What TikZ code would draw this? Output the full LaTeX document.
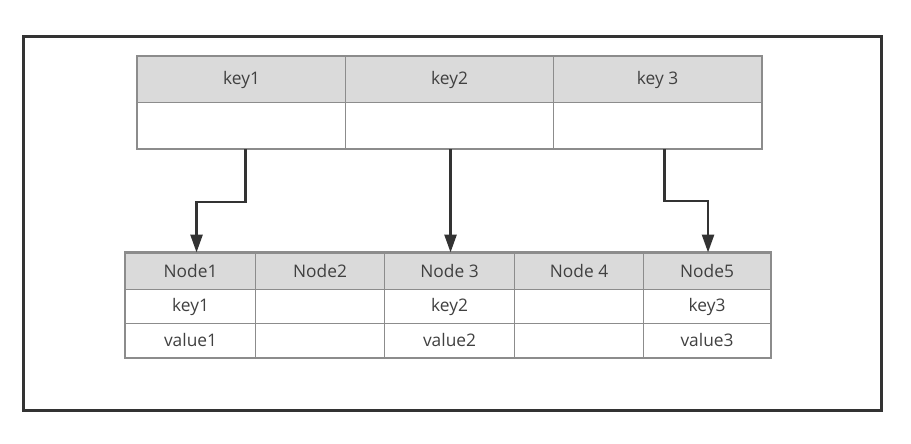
\documentclass[tikz,border=0pt]{standalone}
\usepackage{fontspec}
\setmainfont{Open Sans}
\usetikzlibrary{arrows.meta}
\definecolor{frame}{HTML}{333333}
\definecolor{grid}{HTML}{8C8C8C}
\definecolor{head}{HTML}{DADADA}
\definecolor{txt}{HTML}{404040}
\begin{document}
\begin{tikzpicture}[x=0.75pt,y=-0.75pt,
  cell/.style={draw=grid, line width=0.8pt, inner sep=0pt, text=txt,
    font=\fontsize{13}{15}\selectfont, anchor=north west},
  hd/.style={cell, fill=head},
  conn/.style={draw=frame, line width=2pt, -{Triangle[length=13.5pt,width=9pt]}}]
\useasboundingbox (0,0) rectangle (911,443);
\node[draw=frame, line width=1.9pt, minimum width={858*0.75pt},
  minimum height={374*0.75pt}, anchor=north west, inner sep=0pt] (frame) at (22,35) {};
% top table
\node[hd, minimum width=156pt, minimum height=34.5pt] (tk1) at (137,56) {key1};
\node[hd, minimum width=156pt, minimum height=34.5pt] (tk2) at (345,56) {key2};
\node[hd, minimum width=156pt, minimum height=34.5pt] (tk3) at (553,56) {key 3};
\node[cell, minimum width=156pt, minimum height=34.5pt] (tv1) at (137,102) {};
\node[cell, minimum width=156pt, minimum height=34.5pt] (tv2) at (345,102) {};
\node[cell, minimum width=156pt, minimum height=34.5pt] (tv3) at (553,102) {};
\draw[grid, line width=1.6pt] (tk1.north west) rectangle (tv3.south east);
% bottom table
\node[hd, minimum width={130*0.75pt}, minimum height={36.5*0.75pt}] (n1) at (125,252.5) {Node1};
\node[hd, minimum width={129*0.75pt}, minimum height={36.5*0.75pt}] (n2) at (255,252.5) {Node2};
\node[hd, minimum width={130*0.75pt}, minimum height={36.5*0.75pt}] (n3) at (384,252.5) {Node 3};
\node[hd, minimum width={129*0.75pt}, minimum height={36.5*0.75pt}] (n4) at (514,252.5) {Node 4};
\node[hd, minimum width={127*0.75pt}, minimum height={36.5*0.75pt}] (n5) at (643,252.5) {Node5};
\node[cell, minimum width={130*0.75pt}, minimum height={34*0.75pt}] (k1) at (125,289) {key1};
\node[cell, minimum width={129*0.75pt}, minimum height={34*0.75pt}] (k2) at (255,289) {};
\node[cell, minimum width={130*0.75pt}, minimum height={34*0.75pt}] (k3) at (384,289) {key2};
\node[cell, minimum width={129*0.75pt}, minimum height={34*0.75pt}] (k4) at (514,289) {};
\node[cell, minimum width={127*0.75pt}, minimum height={34*0.75pt}] (k5) at (643,289) {key3};
\node[cell, minimum width={130*0.75pt}, minimum height={33.5*0.75pt}] (v1) at (125,323) {value1};
\node[cell, minimum width={129*0.75pt}, minimum height={33.5*0.75pt}] (v2) at (255,323) {};
\node[cell, minimum width={130*0.75pt}, minimum height={33.5*0.75pt}] (v3) at (384,323) {value2};
\node[cell, minimum width={129*0.75pt}, minimum height={33.5*0.75pt}] (v4) at (514,323) {};
\node[cell, minimum width={127*0.75pt}, minimum height={33.5*0.75pt}] (v5) at (643,323) {value3};
\draw[grid, line width=1.6pt] (n1.north west) rectangle (v5.south east);
% connectors
\draw[conn] ([xshift=3pt]tv1.south) -- ++(0,53) -| ([xshift=4.5pt]n1.north);
\draw[conn] ([xshift=0.75pt]tv2.south) -- ([xshift=0.75pt]n3.north);
\draw[conn] ([xshift=5.25pt]tv3.south) -- ++(0,52) -| ([xshift=0.75pt]n5.north);
\end{tikzpicture}
\end{document}
